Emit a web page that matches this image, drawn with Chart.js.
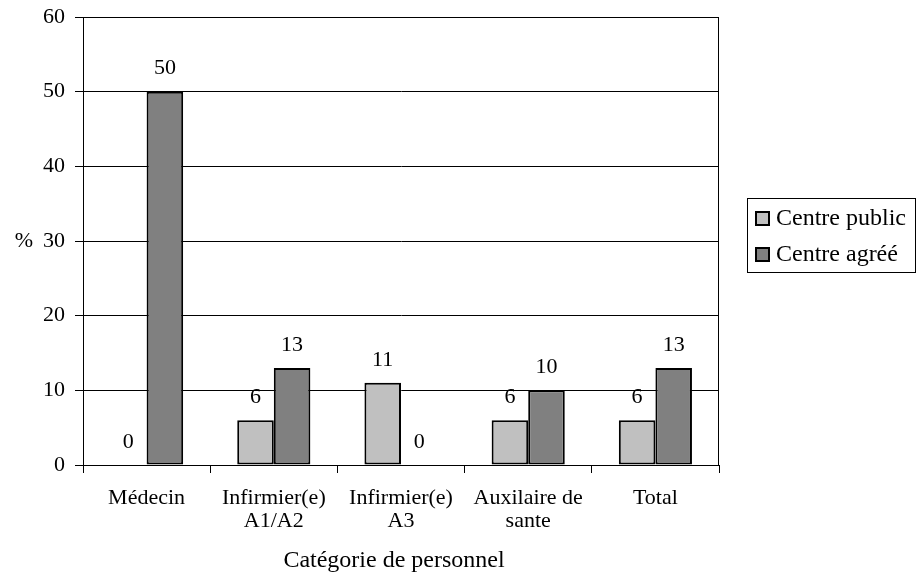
<!DOCTYPE html>
<html>
<head>
<meta charset="utf-8">
<script src="https://cdn.jsdelivr.net/npm/chart.js@4"></script>
<style>
  html, body { margin: 0; padding: 0; background: #fff; }
  #wrap { width: 917px; height: 578px; }
</style>
</head>
<body>
<div id="wrap"><canvas id="chart" width="917" height="578"></canvas></div>
<script>
const categories = [
  "Médecin",
  ["Infirmier(e)", "A1/A2"],
  ["Infirmier(e)", "A3"],
  ["Auxilaire de", "sante"],
  "Total"
];
const publicValues = [0, 6, 11, 6, 6];
const agreeValues = [50, 13, 0, 10, 13];
const seriesNames = ["Centre public", "Centre agréé"];
const seriesColors = ["#c0c0c0", "#808080"];
const yTicks = [0, 10, 20, 30, 40, 50, 60];
const xTitle = "Catégorie de personnel";
const yTitle = "%";

const FONT = "'Liberation Serif', 'Times New Roman', Times, serif";

// labels above bars, plot frame, axis titles and the boxed legend
const extras = {
  id: "extras",
  afterDatasetsDraw(chart) {
    const ctx = chart.ctx;
    const area = chart.chartArea;
    ctx.save();
    ctx.strokeStyle = "#000";
    ctx.lineWidth = 1;
    ctx.strokeRect(area.left + 0.5, area.top + 0.5, area.right - area.left - 1, area.bottom - area.top);

    ctx.fillStyle = "#000";
    ctx.font = "22px " + FONT;
    ctx.textAlign = "center";
    ctx.textBaseline = "middle";
    chart.data.datasets.forEach((ds, i) => {
      chart.getDatasetMeta(i).data.forEach((bar, j) => {
        ctx.fillText(String(ds.data[j]), bar.x, bar.y - 23);
      });
    });

    ctx.fillText(yTitle, 24, 241);

    ctx.font = "24px " + FONT;
    ctx.fillText(xTitle, 394, 561);

    // legend
    ctx.strokeRect(747.5, 198.5, 168, 74);
    chart.data.datasets.forEach((ds, i) => {
      const y = 219 + i * 36;
      ctx.fillStyle = ds.backgroundColor;
      ctx.fillRect(756, y - 7, 13, 13);
      ctx.lineWidth = 2;
      ctx.strokeStyle = "#000";
      ctx.strokeRect(756, y - 7, 13, 13);
      ctx.fillStyle = "#000";
      ctx.textAlign = "left";
      ctx.fillText(ds.label, 776, y);
    });
    ctx.restore();
  }
};

function draw() {
  new Chart(document.getElementById("chart"), {
    type: "bar",
    data: {
      labels: categories,
      datasets: [
        {
          label: seriesNames[0],
          data: publicValues,
          backgroundColor: seriesColors[0],
          borderColor: "#000",
          borderWidth: 2,
          borderSkipped: false,
          barPercentage: 1,
          categoryPercentage: 0.575
        },
        {
          label: seriesNames[1],
          data: agreeValues,
          backgroundColor: seriesColors[1],
          borderColor: "#000",
          borderWidth: 2,
          borderSkipped: false,
          barPercentage: 1,
          categoryPercentage: 0.575
        }
      ]
    },
    options: {
      responsive: false,
      animation: false,
      layout: { padding: { top: 17, right: 198, left: 0, bottom: 0 } },
      plugins: {
        legend: { display: false },
        tooltip: { enabled: false }
      },
      scales: {
        x: {
          offset: true,
          grid: { drawOnChartArea: false, color: "#000", tickLength: 8 },
          border: { color: "#000" },
          ticks: {
            color: "#000",
            padding: 14,
            maxRotation: 0,
            autoSkip: false,
            font: { family: FONT, size: 22, lineHeight: 1.05 }
          },
          afterFit(scale) {
            scale.height = 113;
            scale.paddingLeft = 0;
            scale.paddingRight = 0;
          }
        },
        y: {
          min: 0,
          max: 60,
          afterBuildTicks(scale) { scale.ticks = yTicks.map(v => ({ value: v })); },
          grid: { color: "#000", tickLength: 8 },
          border: { color: "#000" },
          ticks: {
            color: "#000",
            padding: 10,
            font: { family: FONT, size: 22 }
          },
          afterFit(scale) {
            scale.width = 83;
            scale.paddingTop = 0;
            scale.paddingBottom = 0;
          }
        }
      }
    },
    plugins: [extras]
  });
}

document.fonts.load("22px 'Liberation Serif'").then(draw, draw);
</script>
</body>
</html>
